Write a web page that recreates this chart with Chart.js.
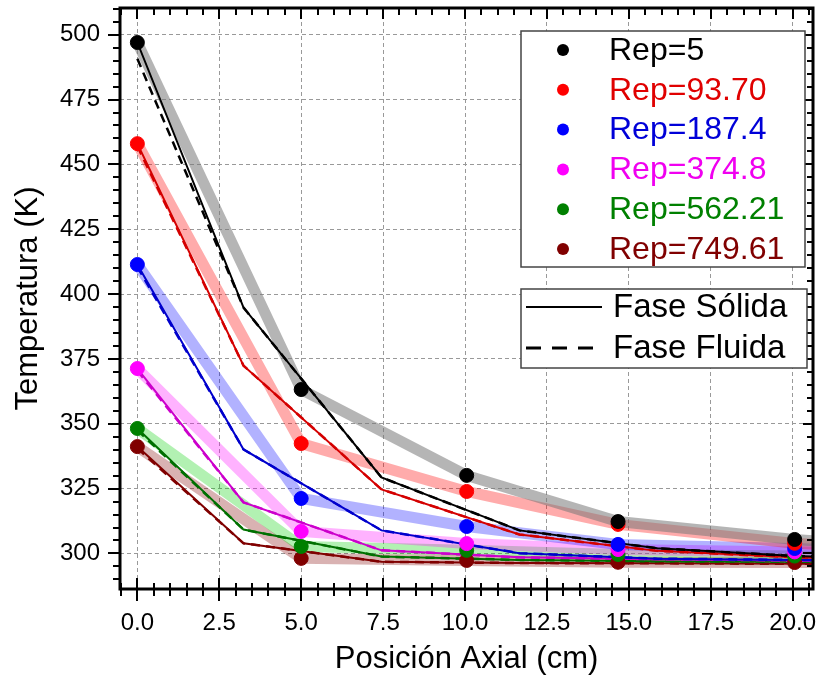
<!DOCTYPE html>
<html>
<head>
<meta charset="utf-8">
<script src="https://cdn.jsdelivr.net/npm/chart.js@4.4.0/dist/chart.umd.min.js"></script>
<style>
  body { margin: 0; background: #fff; }
</style>
</head>
<body>
<canvas id="grafico" width="821" height="687"></canvas>
<script>
// Posiciones axiales (cm)
const posExp = [0, 5, 10.05, 14.67, 20.06, 25];
const posSim = [0, 3.24, 7.45, 11.66, 15.87, 20.08, 24.3];

const etiquetas = ['Rep=5', 'Rep=93.70', 'Rep=187.4', 'Rep=374.8', 'Rep=562.21', 'Rep=749.61'];

// Puntos experimentales (K)
const expRep5 = [497, 363.2, 330.1, 312.3, 305.4, 301];
const expRep93 = [458, 342.4, 323.9, 311.2, 303.9, 300.5];
const expRep187 = [411.4, 321.2, 310.4, 303.5, 301.9, 300];
const expRep374 = [371.3, 308.5, 303.8, 301.5, 300.6, 299.5];
const expRep562 = [348.2, 302.7, 301.2, 299.6, 299, 298.5];
const expRep749 = [341.2, 298.1, 297.3, 296.6, 296.5, 296.3];

// Fase sólida (K)
const solRep5 = [497, 394.8, 329.3, 308.9, 302, 299, 298];
const solRep93 = [458, 372.4, 324.7, 307.3, 301, 298.5, 297.5];
const solRep187 = [411.4, 340.1, 308.9, 300.1, 298, 297.5, 297];
const solRep374 = [371.3, 319.7, 301.2, 298.5, 297.8, 297.3, 297];
const solRep562 = [348.2, 309.2, 298.8, 297.5, 297, 296.8, 296.6];
const solRep749 = [341.2, 303.9, 296.8, 296.3, 296.2, 296, 296];

// Fase fluida (K)
const fluRep5 = [490.7, 394.8, 329.3, 308.9, 302, 299, 298];
const fluRep93 = [457, 372.4, 324.7, 307.3, 301, 298.5, 297.5];
const fluRep187 = [410.5, 340.1, 308.9, 300.1, 298, 297.5, 297];
const fluRep374 = [370.5, 319.7, 301.2, 298.5, 297.8, 297.3, 297];
const fluRep562 = [347.5, 309.2, 298.8, 297.5, 297, 296.8, 296.6];
const fluRep749 = [340.5, 303.9, 296.8, 296.3, 296.2, 296, 296];

const ticksX = [0, 2.5, 5, 7.5, 10, 12.5, 15, 17.5, 20];
const ticksY = [300, 325, 350, 375, 400, 425, 450, 475, 500];

const experimentales = [expRep5, expRep93, expRep187, expRep374, expRep562, expRep749];
const solidas = [solRep5, solRep93, solRep187, solRep374, solRep562, solRep749];
const fluidas = [fluRep5, fluRep93, fluRep187, fluRep374, fluRep562, fluRep749];

const colores = [
  { punto: '#000000', linea: '#000000', banda: 'rgba(120,120,120,0.55)', texto: '#000000' },
  { punto: '#ff0000', linea: '#d40000', banda: 'rgba(255,0,0,0.33)', texto: '#e00000' },
  { punto: '#0000ff', linea: '#0000cc', banda: 'rgba(0,0,255,0.3)', texto: '#0000d8' },
  { punto: '#ff00ff', linea: '#cc00cc', banda: 'rgba(255,0,255,0.3)', texto: '#f000f0' },
  { punto: '#008000', linea: '#007000', banda: 'rgba(0,210,0,0.3)', texto: '#008000' },
  { punto: '#800000', linea: '#800000', banda: 'rgba(128,0,0,0.3)', texto: '#800000' }
];

const fuente = '"Liberation Sans", Arial, sans-serif';

function puntos(xs, ys) {
  return ys.map((y, i) => ({ x: xs[i], y: y }));
}

const datasets = [];
experimentales.forEach((serie, i) => {
  // banda gruesa que une los puntos
  datasets.push({
    data: puntos(posExp, serie),
    showLine: true,
    borderColor: colores[i].banda,
    borderWidth: 11,
    pointRadius: 0,
    order: 3
  });
  datasets.push({
    data: puntos(posSim, solidas[i]),
    showLine: true,
    borderColor: colores[i].linea,
    borderWidth: 2,
    pointRadius: 0,
    order: 2
  });
  datasets.push({
    data: puntos(posSim, fluidas[i]),
    showLine: true,
    borderColor: colores[i].linea,
    borderWidth: 2.5,
    borderDash: [9, 6],
    pointRadius: 0,
    order: 2
  });
  datasets.push({
    data: puntos(posExp, serie),
    showLine: false,
    backgroundColor: colores[i].punto,
    borderColor: colores[i].punto,
    pointRadius: 7,
    order: 1
  });
});

// Marco, ticks menores y mayores
const marco = {
  id: 'marco',
  afterDatasetsDraw(chart) {
    const { ctx, chartArea: a, scales: { x, y } } = chart;
    ctx.save();
    ctx.strokeStyle = '#000';
    ctx.lineWidth = 2;
    ctx.beginPath();
    for (let v = -0.5; v <= 20.6; v += 0.5) {
      const px = Math.round(x.getPixelForValue(v));
      const mayor = Math.abs(v / 2.5 - Math.round(v / 2.5)) < 1e-6;
      // abajo: cruzan el eje
      ctx.moveTo(px, a.bottom - (mayor ? 11 : 6));
      ctx.lineTo(px, a.bottom + (mayor ? 12 : 7));
      // arriba: hacia dentro
      ctx.moveTo(px, a.top);
      ctx.lineTo(px, a.top + (mayor ? 11 : 7));
    }
    for (let v = 290; v <= 510; v += 5) {
      const py = Math.round(y.getPixelForValue(v));
      const mayor = v % 25 === 0;
      ctx.moveTo(a.left - (mayor ? 12 : 7), py);
      ctx.lineTo(a.left, py);
      ctx.moveTo(a.right, py);
      ctx.lineTo(a.right - (mayor ? 10 : 6), py);
    }
    ctx.stroke();
    ctx.lineWidth = 3;
    ctx.strokeRect(a.left, a.top, a.right - a.left, a.bottom - a.top);
    ctx.restore();
  }
};

// Leyendas
const leyenda = {
  id: 'leyenda',
  afterDraw(chart) {
    const ctx = chart.ctx;
    ctx.save();
    ctx.fillStyle = '#fff';
    ctx.strokeStyle = '#444';
    ctx.lineWidth = 1.5;
    ctx.fillRect(521, 31, 284, 236);
    ctx.strokeRect(521, 31, 284, 236);
    ctx.font = '32px ' + fuente;
    ctx.textBaseline = 'middle';
    etiquetas.forEach((txt, i) => {
      const yy = 50 + i * 39.8;
      ctx.fillStyle = colores[i].punto;
      ctx.beginPath();
      ctx.arc(563, yy, 6, 0, Math.PI * 2);
      ctx.fill();
      ctx.fillStyle = colores[i].texto;
      ctx.fillText(txt, 609, yy + 1);
    });

    ctx.fillStyle = '#fff';
    ctx.fillRect(521, 289, 286, 79);
    ctx.strokeRect(521, 289, 286, 79);
    ctx.strokeStyle = '#000';
    ctx.lineWidth = 2;
    ctx.beginPath();
    ctx.moveTo(526, 307);
    ctx.lineTo(602, 307);
    ctx.stroke();
    ctx.lineWidth = 3;
    ctx.setLineDash([15, 11]);
    ctx.beginPath();
    ctx.moveTo(526, 348);
    ctx.lineTo(602, 348);
    ctx.stroke();
    ctx.setLineDash([]);
    ctx.fillStyle = '#000';
    ctx.font = '33px ' + fuente;
    ctx.fillText('Fase Sólida', 613, 308);
    ctx.fillText('Fase Fluida', 613, 349);
    ctx.restore();
  }
};

function sinPadding(s) {
  s.paddingTop = 0;
  s.paddingBottom = 0;
  s.paddingLeft = 0;
  s.paddingRight = 0;
}

new Chart(document.getElementById('grafico').getContext('2d'), {
  type: 'scatter',
  data: { datasets: datasets },
  options: {
    responsive: false,
    animation: false,
    layout: { padding: { top: 7, right: 4, left: 0, bottom: 0 } },
    plugins: { legend: { display: false }, tooltip: { enabled: false } },
    scales: {
      x: {
        type: 'linear',
        min: -0.53,
        max: 20.62,
        afterBuildTicks: s => { s.ticks = ticksX.map(v => ({ value: v })); },
        afterFit: s => { s.height = 98; sinPadding(s); },
        grid: { color: '#999', lineWidth: 1, drawTicks: false },
        border: { display: false, dash: [4, 3] },
        ticks: {
          color: '#000',
          font: { family: fuente, size: 24 },
          padding: 20,
          maxRotation: 0,
          callback: v => v.toFixed(1)
        },
        title: {
          display: true,
          text: 'Posición Axial (cm)',
          color: '#000',
          font: { family: fuente, size: 31 },
          padding: { top: 0, bottom: 9 }
        }
      },
      y: {
        type: 'linear',
        min: 286.3,
        max: 510.3,
        afterBuildTicks: s => { s.ticks = ticksY.map(v => ({ value: v })); },
        afterFit: s => { s.width = 120; sinPadding(s); },
        grid: { color: '#999', lineWidth: 1, drawTicks: false },
        border: { display: false, dash: [4, 3] },
        ticks: {
          color: '#000',
          font: { family: fuente, size: 24 },
          padding: 20
        },
        title: {
          display: true,
          text: 'Temperatura (K)',
          color: '#000',
          font: { family: fuente, size: 31 },
          padding: { top: 10, bottom: 0 }
        }
      }
    }
  },
  plugins: [marco, leyenda]
});
</script>
</body>
</html>
